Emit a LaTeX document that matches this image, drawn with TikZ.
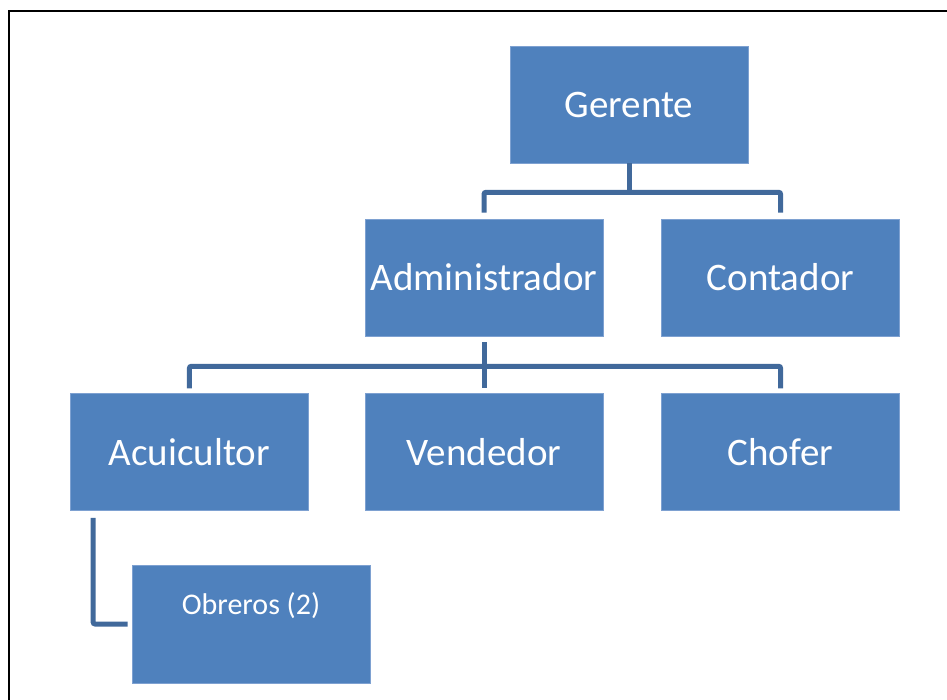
\documentclass[tikz,border=0pt]{standalone}
\usepackage{fontspec}
\setmainfont{Carlito}
\usetikzlibrary{positioning}
\definecolor{boxcol}{HTML}{4F81BD}
\definecolor{edgecol}{HTML}{7EA1D1}
\definecolor{linkcol}{HTML}{41699B}

\begin{document}
\begin{tikzpicture}[
  x=1pt, y=-1pt, node distance=57pt and 58pt,
  box/.style={draw=edgecol, line width=0.6pt, fill=boxcol, text=white, font=\fontsize{39}{43}\selectfont,
    minimum width=238pt, minimum height=117pt, inner sep=0pt},
  link/.style={draw=linkcol, line width=5pt, rounded corners=2pt},
]
\useasboundingbox (0,0) rectangle (947,700);
\draw[line width=2.8pt, line cap=rect] (9,700) -- (9,11) -- (947,11);
% upper levels
\node[box] (ger) at (629,104.5) {Gerente};
\node[box] (adm) at (484,277.5) {Administrador};
\node[box, right=of adm] (con) {Contador};
% lower level
\node[box, below=of adm] (ven) {Vendedor};
\node[box, right=of ven] (cho) {Chofer};
\node[box, left=56pt of ven] (acu) {Acuicultor};
\node[box, font=\fontsize{30}{34}\selectfont, minimum height=118pt, text depth=40pt] (obr) at (251,624) {Obreros (2)};
% connectors
\draw[link] (ger.south) -- ++(0,29) coordinate (gj);
\draw[link] ([yshift=6pt]adm.north) |- (gj) -| ([yshift=6pt]con.north);
\coordinate (aj) at ([yshift=-30pt]adm.south);
\draw[link] ([yshift=-6pt]adm.south) -- ([yshift=5pt]ven.north);
\draw[link] ([yshift=5pt]acu.north) |- (aj) -| ([yshift=5pt]cho.north);
\draw[link] ([xshift=23pt,yshift=-7pt]acu.south west) |- ([xshift=-4pt]obr.west);
\end{tikzpicture}
\end{document}
